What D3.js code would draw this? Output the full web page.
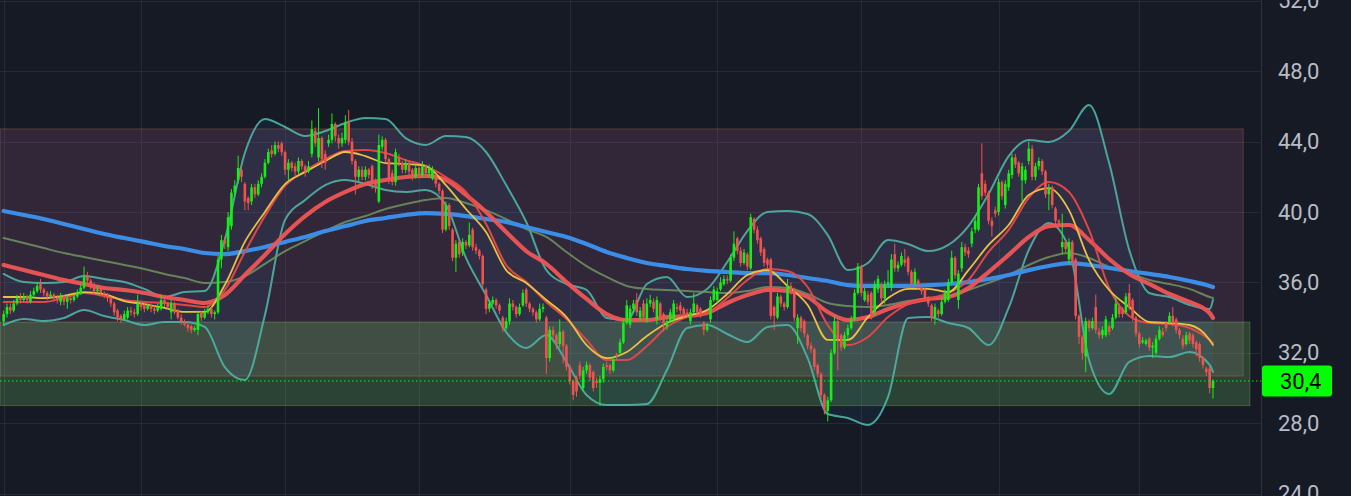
<!DOCTYPE html>
<html><head><meta charset="utf-8">
<script src="https://cdn.jsdelivr.net/npm/d3@7"></script>
<style>html,body{margin:0;padding:0;background:#161a25;overflow:hidden}</style>
</head><body>
<svg id="c" width="1351" height="496"></svg>
<script>
// ---------- DATA ----------
const open=[33.8,34.2,34.6,34.4,34.8,35.1,35.0,35.2,34.9,35.3,
35.5,35.9,35.6,35.4,35.2,35.3,35.1,34.9,35.2,34.9,
35.1,35.0,35.2,35.4,35.7,36.4,36.1,35.9,35.5,35.6,
35.4,35.3,35.1,34.8,34.4,34.1,33.9,34.0,34.4,34.3,
34.2,34.8,34.7,34.5,34.7,34.5,34.4,34.5,35.0,34.8,
34.3,34.8,34.4,34.0,33.8,33.6,33.5,33.3,33.3,34.3,
34.0,34.3,34.5,34.2,34.3,37.3,38.4,38.0,39.2,41.1,
41.8,42.4,41.6,40.8,40.6,41.4,41.0,41.6,42.0,42.8,
43.5,43.3,43.8,43.9,43.4,42.4,42.8,42.6,42.3,42.9,
42.6,42.3,43.3,44.6,43.1,44.2,43.3,43.9,44.1,45.0,
44.2,43.9,44.1,45.1,44.0,42.9,42.0,42.4,42.0,42.4,
42.6,41.7,40.6,43.7,44.1,43.0,42.2,41.7,43.1,42.8,
42.4,42.8,42.4,42.0,42.5,42.1,42.6,42.2,41.9,42.1,
41.6,41.2,39.0,40.4,39.0,37.4,38.3,37.7,38.3,38.1,
39.0,38.0,37.8,37.5,35.6,34.5,34.8,35.0,34.7,34.0,
33.4,33.8,34.8,34.6,34.2,34.7,35.6,34.8,34.5,34.3,
33.9,34.5,34.0,31.7,33.3,33.0,32.5,33.2,32.4,31.2,
30.4,30.6,31.3,30.0,31.0,31.3,30.9,30.4,30.3,30.5,
31.3,31.3,31.0,31.9,32.0,32.6,33.7,33.6,34.5,35.0,
34.0,34.8,33.9,34.8,34.9,33.9,34.8,34.2,33.5,33.8,
33.9,34.6,34.7,34.5,34.3,33.8,34.3,34.7,34.5,33.7,
33.3,33.9,35.0,35.0,35.6,35.9,36.2,36.1,37.4,38.5,
37.8,37.1,37.6,36.8,39.6,39.0,38.5,37.9,37.3,37.3,
34.6,34.0,35.2,34.8,34.6,35.8,35.6,33.4,34.0,33.8,
33.0,32.4,32.2,31.3,30.8,29.6,28.7,29.3,32.0,33.8,
33.0,32.3,33.0,33.4,33.9,35.4,36.9,35.0,35.3,35.4,
34.3,35.6,35.9,35.1,35.9,35.7,37.6,36.8,37.0,37.3,
37.4,36.6,35.9,36.1,35.7,35.6,35.1,34.7,34.0,34.4,
34.2,34.9,35.0,36.0,37.4,35.0,36.8,38.0,37.8,38.2,
39.0,39.0,42.2,41.6,41.1,39.5,40.1,40.0,41.7,40.4,
41.4,42.1,43.1,42.8,41.8,41.8,42.9,43.6,42.0,42.6,
42.9,42.3,41.0,41.4,40.2,39.5,38.0,38.3,37.3,38.3,
37.3,34.1,32.9,31.8,33.8,33.4,34.6,33.2,33.0,33.0,
33.5,33.4,34.0,34.6,34.5,34.3,35.4,35.0,34.0,33.1,
32.6,32.5,32.8,32.3,32.0,32.8,33.2,33.7,33.7,34.1,
33.9,33.3,32.8,32.5,33.1,33.0,32.6,32.5,31.7,31.1,
31.1,30.0];
const high=[34.4,34.8,34.8,35.0,35.3,35.4,35.4,35.3,35.5,35.7,
36.0,36.2,35.7,35.5,35.5,35.4,35.3,35.4,35.3,35.3,
35.2,35.3,35.6,35.9,36.9,36.6,36.2,36.0,35.8,35.7,
35.5,35.4,35.2,34.9,34.5,34.2,34.4,34.6,34.6,34.5,
35.3,34.9,34.8,34.8,34.8,34.7,34.8,35.3,35.1,34.9,
35.0,34.9,34.5,34.2,33.9,33.7,33.6,33.5,34.4,34.4,
34.5,34.7,34.6,34.4,37.5,38.7,38.6,40.0,41.3,41.8,
43.2,42.6,41.7,40.9,41.6,41.6,41.8,42.2,43.0,43.6,
43.8,44.0,44.0,44.0,43.5,43.0,42.9,42.8,43.1,43.0,
42.7,42.9,45.2,44.8,45.9,44.3,43.5,44.4,45.6,45.1,
44.4,44.5,45.5,45.8,44.2,43.0,42.6,42.6,42.6,42.5,
42.7,41.9,44.4,44.3,44.2,43.1,42.4,43.6,43.3,42.9,
43.0,42.9,42.5,42.7,42.6,42.9,42.7,42.7,42.6,42.2,
41.7,41.3,40.6,40.5,39.1,38.4,38.4,38.5,38.4,39.4,
39.1,38.2,37.9,37.6,35.7,35.0,35.2,35.1,34.8,34.1,
34.0,35.1,35.0,34.7,34.8,35.6,35.7,34.9,34.6,34.4,
34.8,34.8,34.1,33.5,33.5,33.1,33.9,33.3,32.5,31.3,
30.5,30.7,31.5,31.2,31.5,31.4,31.0,30.6,30.7,31.4,
31.5,31.4,31.8,32.0,32.8,33.9,35.0,34.7,35.0,35.4,
34.6,35.0,35.1,35.3,35.1,35.2,34.9,34.3,34.0,34.5,
35.0,34.8,34.9,34.6,34.5,34.5,35.4,34.8,34.6,33.8,
33.7,35.2,35.8,35.7,36.3,36.4,36.4,37.6,38.9,38.6,
38.0,37.9,37.7,39.9,39.7,39.2,38.6,38.0,37.4,37.4,
34.7,35.4,35.3,34.9,36.2,36.0,35.7,34.2,34.1,33.9,
33.1,32.6,32.3,31.4,30.9,29.7,29.5,32.2,34.1,33.9,
33.1,33.2,33.6,34.1,35.6,37.1,37.0,35.7,35.5,35.5,
36.1,36.4,36.0,36.1,36.7,37.6,38.2,37.2,37.7,37.9,
37.5,36.7,36.8,36.2,35.8,35.7,35.2,34.8,34.8,34.5,
35.1,35.6,36.2,37.8,37.5,36.7,38.3,38.2,38.0,39.1,
39.8,41.6,43.9,41.8,41.2,39.7,40.3,41.9,41.8,41.8,
42.4,43.3,43.3,42.9,42.8,42.6,44.0,43.8,42.8,43.1,
43.0,42.4,41.6,41.5,40.3,39.6,39.9,38.4,38.5,38.4,
37.4,34.2,33.0,34.0,33.9,34.0,35.3,33.4,33.5,34.1,
33.6,34.2,35.2,34.8,34.6,35.4,35.9,35.1,34.1,33.2,
32.9,32.8,32.9,32.6,33.0,33.5,33.4,33.8,34.3,34.6,
34.0,33.4,33.0,33.2,33.2,33.1,32.7,32.6,31.8,31.2,
31.2,30.5];
const low=[33.6,34.0,34.2,34.3,34.7,34.8,34.9,34.8,34.8,35.1,
35.4,35.4,35.2,35.0,35.1,34.9,34.8,34.7,34.7,34.5,
34.8,34.9,35.1,35.3,35.6,35.9,35.6,35.3,35.3,35.2,
35.1,34.9,34.6,34.1,33.8,33.7,33.8,33.9,34.1,34.0,
34.1,34.4,34.3,34.4,34.3,34.2,34.3,34.4,34.6,34.5,
33.9,34.2,33.9,33.6,33.5,33.2,33.1,33.2,33.0,33.8,
33.9,34.2,34.0,33.9,34.2,36.8,37.9,37.8,39.0,40.9,
41.6,41.7,40.1,40.1,40.4,40.8,40.9,41.4,41.9,42.7,
43.1,43.2,43.4,43.2,42.1,41.8,42.3,42.0,42.1,42.4,
42.0,42.2,43.1,43.7,42.9,42.5,42.4,43.7,43.9,44.0,
43.6,43.7,43.9,43.8,42.7,41.0,41.7,41.8,41.8,41.9,
41.3,41.1,40.5,43.5,42.8,41.6,41.5,41.5,42.6,42.2,
42.2,42.1,41.8,41.9,41.9,42.0,42.0,42.0,41.8,41.4,
41.0,38.8,38.9,39.0,37.2,36.6,37.4,37.5,37.9,38.0,
37.8,37.6,37.3,35.7,34.2,34.3,34.7,34.5,34.2,33.2,
33.3,33.6,34.4,34.0,34.1,34.6,34.6,34.3,34.1,33.7,
33.8,34.3,30.8,31.5,32.8,32.2,32.3,31.4,31.0,30.2,
29.3,29.5,30.5,29.8,30.8,30.4,29.8,30.0,29.0,30.3,
31.0,30.8,30.9,31.6,31.9,32.5,33.6,33.4,34.3,34.1,
33.8,33.8,33.7,34.6,34.3,33.6,33.8,33.2,33.3,33.7,
33.7,34.3,34.2,34.0,34.0,33.6,34.2,34.1,34.0,33.0,
33.2,33.7,34.9,34.8,35.5,35.8,35.9,36.0,37.2,37.6,
36.9,37.0,36.7,36.7,38.8,38.2,37.5,36.9,36.8,33.9,
33.3,33.9,34.6,34.4,34.5,35.3,33.8,32.5,33.2,32.9,
32.2,32.0,31.0,30.6,29.4,28.5,28.1,29.2,31.9,31.0,
32.1,32.2,32.8,33.3,33.8,35.3,35.2,34.9,34.7,33.9,
34.1,35.4,34.9,34.8,35.7,35.5,36.6,36.6,36.9,36.9,
36.4,35.7,35.8,35.6,35.3,34.9,34.6,33.8,33.6,34.0,
34.1,34.8,34.9,35.9,36.2,34.5,36.6,37.5,37.4,38.0,
38.8,38.9,40.7,40.9,39.3,38.6,39.7,39.8,40.7,40.2,
41.2,41.9,42.5,42.0,40.6,41.6,42.7,41.8,41.8,42.4,
42.1,40.8,40.1,40.2,39.3,39.2,37.6,37.7,37.0,36.9,
33.9,32.5,31.6,30.9,33.2,33.3,33.1,32.8,32.8,32.9,
33.0,33.3,33.9,34.0,34.0,34.2,34.4,33.8,32.9,32.3,
32.5,32.4,32.1,31.7,31.9,32.7,32.9,33.2,33.6,33.5,
33.1,32.8,32.2,32.4,32.5,32.3,31.8,31.5,31.1,30.7,
29.7,29.4];
const close=[34.2,34.6,34.4,34.8,35.1,35.0,35.2,35.0,35.3,35.5,
35.8,35.6,35.4,35.2,35.3,35.1,35.0,35.2,34.9,35.1,
35.0,35.2,35.4,35.7,36.3,36.1,35.8,35.5,35.6,35.4,
35.3,35.1,34.8,34.3,34.0,33.9,34.2,34.4,34.3,34.2,
34.8,34.6,34.5,34.7,34.5,34.4,34.6,35.0,34.8,34.6,
34.8,34.3,34.0,33.8,33.6,33.4,33.3,33.4,34.2,34.0,
34.3,34.5,34.2,34.3,37.3,38.4,38.2,39.7,41.1,41.5,
42.5,42.0,40.6,40.5,41.4,41.0,41.6,42.0,42.8,43.4,
43.3,43.8,43.6,43.4,42.4,42.8,42.5,42.3,42.9,42.6,
42.3,42.6,44.7,43.9,44.2,43.0,42.8,44.1,45.0,44.3,
43.9,44.2,45.1,44.0,42.9,42.0,42.4,42.0,42.4,42.1,
41.6,41.4,43.8,44.1,43.0,41.8,41.7,43.4,42.8,42.4,
42.8,42.3,42.0,42.5,42.1,42.6,42.2,42.5,42.4,41.6,
41.2,39.0,40.4,39.2,37.4,38.2,37.6,38.3,38.1,38.7,
38.0,37.8,37.5,35.9,34.5,34.8,35.0,34.7,34.4,33.4,
33.8,34.8,34.6,34.2,34.6,35.4,34.8,34.5,34.3,33.9,
34.5,34.6,31.7,33.3,33.0,32.5,33.2,32.4,31.2,30.4,
29.6,29.8,30.7,31.0,31.3,30.6,30.0,30.3,30.5,31.2,
31.2,31.0,31.6,31.8,32.6,33.7,34.7,34.5,34.8,34.3,
34.4,34.0,34.8,35.0,34.5,35.0,34.0,33.7,33.8,34.3,
34.8,34.5,34.4,34.2,34.2,34.3,34.8,34.3,34.2,33.3,
33.5,35.0,35.6,35.5,36.0,36.2,36.1,37.4,38.2,37.8,
37.1,37.7,36.9,39.7,39.0,38.4,37.7,37.1,37.0,34.1,
34.1,35.2,34.8,34.6,35.8,35.5,34.0,34.0,33.4,33.1,
32.4,32.2,31.2,30.8,29.6,28.8,29.3,32.0,33.8,32.8,
32.3,33.0,33.4,33.9,35.4,36.9,35.4,35.5,34.9,34.1,
35.9,36.2,35.1,35.9,36.0,37.3,36.8,37.0,37.5,37.1,
36.6,35.9,36.6,35.8,35.5,35.1,34.8,34.0,34.6,34.2,
34.9,35.4,36.0,37.4,36.4,36.5,38.0,37.7,37.6,38.9,
39.5,41.4,40.9,41.1,39.5,39.2,39.9,41.7,40.9,41.6,
42.2,43.1,42.7,42.2,42.6,42.4,43.6,42.0,42.6,42.9,
42.3,41.0,41.4,40.4,39.5,39.4,38.3,37.9,38.3,37.1,
34.1,32.9,32.0,33.8,33.4,33.8,33.3,33.0,33.3,33.9,
33.2,34.0,34.8,34.2,34.2,35.2,34.6,34.0,33.1,32.5,
32.7,32.7,32.3,32.4,32.8,33.3,33.0,33.4,34.1,33.7,
33.3,33.0,32.4,33.0,32.7,32.5,32.2,31.7,31.3,30.9,
30.0,30.4];

// indicator lines, one value every 6 candles (plus the last candle)
const ma200=[40.06,39.83,39.60,39.32,39.03,38.75,38.52,38.30,38.07,37.90,37.67,37.61,37.78,38.01,38.30,38.58,38.92,39.20,39.49,39.66,39.83,39.94,39.89,39.77,39.60,39.43,39.15,38.86,38.58,38.18,37.73,37.39,37.10,36.93,36.76,36.65,36.59,36.53,36.53,36.42,36.25,36.08,35.85,35.80,35.80,35.80,35.85,35.91,36.02,36.19,36.42,36.70,36.93,37.10,36.99,36.82,36.65,36.48,36.31,36.08,35.80,35.74];
const ma100=[38.52,38.24,37.95,37.67,37.44,37.22,36.99,36.76,36.48,36.25,35.97,36.02,36.36,37.05,37.78,38.35,38.92,39.43,39.77,40.17,40.45,40.68,40.80,40.51,40.11,39.60,39.03,38.58,37.73,36.93,36.31,35.80,35.63,35.57,35.51,35.45,35.40,35.51,35.74,35.68,35.34,34.83,34.66,34.60,34.72,34.94,35.06,35.23,35.57,35.97,36.42,36.99,37.44,37.67,37.39,36.88,36.53,36.14,35.91,35.63,35.17,35.11];
const ma50=[36.99,36.70,36.42,36.14,35.91,35.68,35.57,35.40,35.17,35.00,34.83,35.28,36.42,37.56,38.75,39.77,40.57,41.14,41.59,41.82,41.99,42.05,41.82,40.97,40.00,38.86,37.78,37.05,36.02,35.06,34.20,33.86,33.86,34.03,34.09,34.26,34.83,35.28,35.57,35.51,35.17,34.32,33.86,34.03,34.49,34.83,35.06,35.17,35.68,36.59,37.56,38.58,39.20,39.26,38.41,37.33,36.48,35.91,35.34,34.89,34.26,33.98];
const ma20=[34.89,34.89,34.89,35.11,35.40,35.23,35.00,34.89,34.83,34.72,34.60,35.57,37.73,39.77,41.48,42.33,43.01,43.47,43.52,43.35,42.95,42.61,41.99,41.14,39.32,36.99,36.02,34.89,33.92,32.73,31.59,31.59,32.39,33.47,34.03,34.26,35.11,36.14,36.76,36.65,35.74,33.58,32.44,32.90,34.03,34.77,35.06,35.40,36.14,37.73,38.98,40.80,41.70,41.14,38.98,35.68,34.09,33.69,33.64,33.41,32.73,32.56];
const ma10=[35.17,35.17,35.11,35.23,35.45,35.34,34.94,34.77,34.55,34.32,34.32,35.85,38.30,40.00,41.59,42.27,42.90,43.41,43.18,42.78,42.73,42.61,41.53,40.17,38.86,36.70,35.97,35.00,34.03,32.44,31.70,32.05,32.95,33.69,34.09,34.43,35.34,36.42,36.70,35.80,34.72,32.73,32.73,34.03,35.11,35.63,35.63,35.45,36.70,38.13,39.26,40.97,41.36,40.11,37.27,35.57,34.60,33.75,33.69,33.58,32.73,32.44];
const bbUpper=[36.48,36.02,35.97,36.02,36.36,36.19,36.02,35.63,35.17,35.45,35.51,38.41,43.35,45.28,44.83,44.32,44.60,45.06,45.34,45.28,44.20,43.81,44.32,44.26,43.41,41.53,39.43,36.70,35.91,35.57,33.98,33.86,35.91,36.31,35.17,35.63,37.16,38.92,40.00,40.06,39.89,38.69,36.70,37.10,38.41,38.18,37.78,38.13,39.20,41.02,43.18,44.09,43.98,44.60,46.08,42.78,37.84,35.40,35.17,34.72,34.49,35.00];
const bbLower=[33.58,33.92,33.81,33.98,34.43,34.09,33.86,33.58,33.75,33.75,33.47,31.19,30.45,34.15,39.55,40.68,41.53,41.82,41.59,41.25,41.14,41.25,40.40,37.39,35.28,33.18,32.27,33.01,31.48,29.60,29.03,29.03,29.09,31.02,33.41,33.58,33.07,32.61,33.47,33.58,31.70,28.52,28.30,27.90,29.49,33.98,34.03,33.69,33.41,32.44,34.55,37.84,39.38,37.95,31.59,29.66,31.48,31.82,31.76,32.05,31.31,30.91];

const yTicks=[24,28,32,36,40,44,48,52];
const monthStarts=[0,41,84,124,169,213,256,297,339];
// price zones: resistance box and support box
const zoneTop=[44.72,33.75];
const zoneBottom=[30.68,29.0];
const zoneEndIdx=[370,372];
const lastPrice=30.4;

// ---------- CHART ----------
const W=1351,H=496,axisX=1261;
const n=close.length;
const x=d3.scaleLinear().domain([0,n-1]).range([3.65,1213]);
const y=d3.scaleLinear().domain([24,52]).range([493.6,0.8]);
const svg=d3.select('#c');
svg.append('rect').attr('width',W).attr('height',H).attr('fill','#161a25');

// grid
const grid=svg.append('g');
grid.selectAll('line.h').data(yTicks).enter().append('line')
  .attr('x1',0).attr('x2',axisX).attr('y1',d=>Math.round(y(d))+0.5).attr('y2',d=>Math.round(y(d))+0.5)
  .attr('stroke','#252a37').attr('stroke-width',1);
grid.selectAll('line.v').data(monthStarts).enter().append('line')
  .attr('x1',d=>Math.round(x(d))+0.5).attr('x2',d=>Math.round(x(d))+0.5).attr('y1',0).attr('y2',H)
  .attr('stroke','#252a37').attr('stroke-width',1);

// zones
const zoneFill=['rgba(160,96,140,0.2)','rgba(132,236,117,0.2)'];
const zoneStroke=['rgba(190,120,80,0.35)','rgba(150,200,120,0.3)'];
svg.append('g').selectAll('rect').data(zoneTop).enter().append('rect')
  .attr('x',0).attr('y',(d,i)=>y(d)).attr('width',(d,i)=>x(zoneEndIdx[i]))
  .attr('height',(d,i)=>y(zoneBottom[i])-y(d))
  .attr('fill',(d,i)=>zoneFill[i]).attr('stroke',(d,i)=>zoneStroke[i]).attr('stroke-width',1);

// indicator sample indices
const sIdx=d3.range(0,n-1,6).concat([n-1]);
const pts=arr=>arr.map((v,k)=>[sIdx[k],v]);

// Bollinger fill
const area=d3.area().x(d=>x(d[0])).y0(d=>y(d[1])).y1(d=>y(d[2])).curve(d3.curveMonotoneX);
svg.append('path').datum(bbUpper.map((v,k)=>[sIdx[k],bbLower[k],v]))
  .attr('d',area).attr('fill','rgba(40,140,230,0.07)');

const line=d3.line().x(d=>x(d[0])).y(d=>y(d[1])).curve(d3.curveMonotoneX);
function drawLine(arr,color,w,op){
  svg.append('path').datum(pts(arr)).attr('d',line).attr('fill','none')
    .attr('stroke',color).attr('stroke-width',w).attr('stroke-opacity',op||1)
    .attr('stroke-linejoin','round').attr('stroke-linecap','round');
}
drawLine(bbUpper,'#4fb3a4',2,0.9);
drawLine(bbLower,'#4fb3a4',2,0.9);
drawLine(ma100,'#6f9460',2,0.85);
drawLine(ma200,'#3b8ee8',4.2);
drawLine(ma50,'#f05555',4.2,0.95);
drawLine(ma20,'#e84848',2,0.95);
drawLine(ma10,'#e8c044',1.8);

// candles
const up='#14f014', dn='#ef5350';
const cg=svg.append('g');
const idx=d3.range(n);
cg.selectAll('line').data(idx).enter().append('line')
  .attr('x1',i=>x(i)).attr('x2',i=>x(i))
  .attr('y1',i=>y(Math.max(high[i],open[i],close[i]))).attr('y2',i=>y(Math.min(low[i],open[i],close[i])))
  .attr('stroke',i=>close[i]>=open[i]?up:dn).attr('stroke-width',1);
cg.selectAll('rect').data(idx).enter().append('rect')
  .attr('x',i=>x(i)-1.3).attr('width',2.6)
  .attr('y',i=>y(Math.max(open[i],close[i])))
  .attr('height',i=>Math.max(1,Math.abs(y(open[i])-y(close[i]))))
  .attr('fill',i=>close[i]>=open[i]?up:dn);

// price line
svg.append('line').attr('x1',0).attr('x2',axisX).attr('y1',y(lastPrice)).attr('y2',y(lastPrice))
  .attr('stroke','#00ff00').attr('stroke-width',1).attr('stroke-dasharray','1.5,2.5');

// right axis
svg.append('line').attr('x1',axisX+0.5).attr('x2',axisX+0.5).attr('y1',0).attr('y2',H)
  .attr('stroke','#2e323e').attr('stroke-width',1);
const fmt=d=>d.toFixed(1).replace('.',',');
const ax=svg.append('g').attr('transform',`translate(${axisX},0)`)
  .call(d3.axisRight(y).tickValues(yTicks).tickSize(0).tickPadding(17).tickFormat(fmt));
ax.select('.domain').remove();
ax.selectAll('text').attr('fill','#b8bcc6').style('font-family','Roboto, "Open Sans", sans-serif').style('font-size','22px');

// last price label
const ly=y(lastPrice);
svg.append('rect').attr('x',axisX+1).attr('y',ly-15.5).attr('width',70).attr('height',31).attr('rx',3).attr('fill','#00ff00');
svg.append('text').attr('x',axisX+19).attr('y',ly).attr('dy','0.35em').text(fmt(lastPrice))
  .attr('fill','#000').style('font-family','Roboto, "Open Sans", sans-serif').style('font-size','22px');
</script>
</body></html>
